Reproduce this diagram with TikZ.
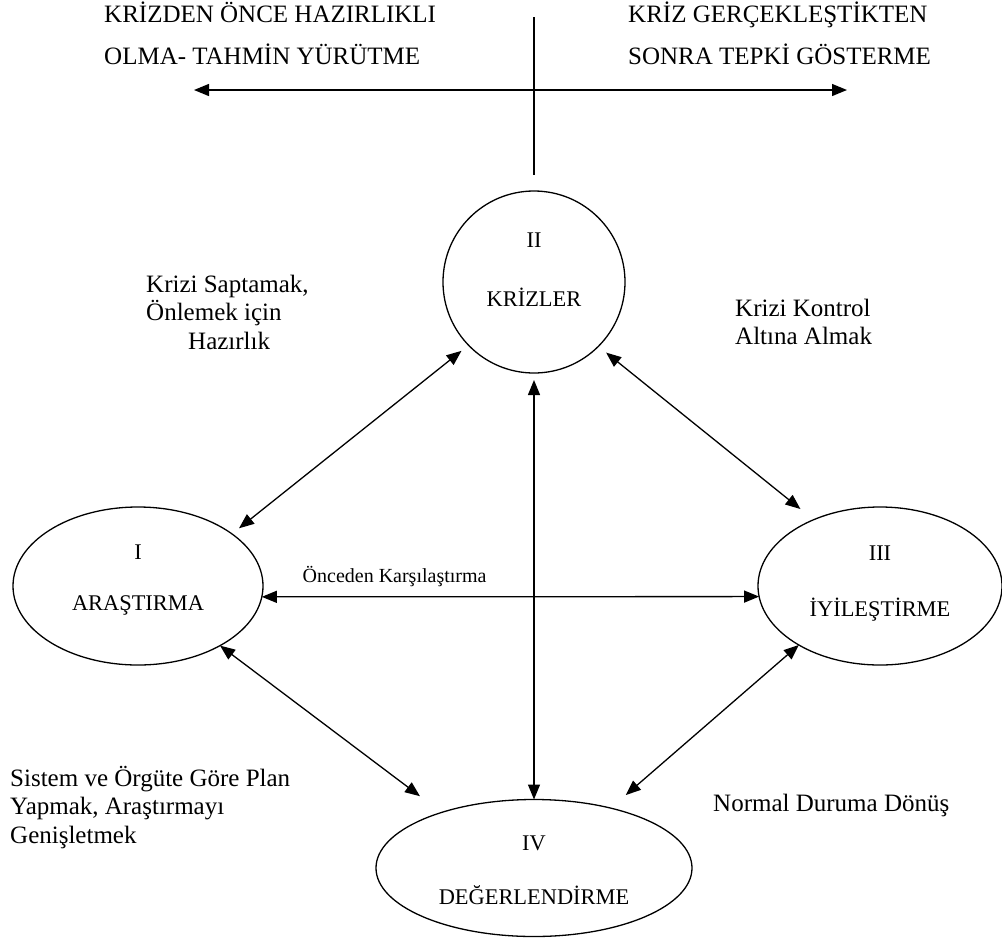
\documentclass[tikz,border=0pt]{standalone}
\usepackage{fontspec}
\setmainfont{Liberation Serif}
\usetikzlibrary{positioning,arrows.meta,shapes.geometric}

\begin{document}
\begin{tikzpicture}[x=1pt,y=-1pt,on grid,>={Triangle[length=15pt,width=12pt]},
        phase/.style={draw,line width=1.3pt,inner sep=0pt,outer sep=0pt},
        every label/.style={font=\fontsize{22.4}{27}\selectfont},
        note/.style={align=left,anchor=north west,inner sep=0pt,font=\fontsize{25}{28.5}\selectfont},
        link/.style={line width=1.3pt,<->}]
        \useasboundingbox (0,0) rectangle (1002,938);
        \node[phase,circle,minimum size=182pt,label={[yshift=42pt]center:II},label={[yshift=-15pt]center:KRİZLER}] (II) at (534,282) {};
        \node[phase,ellipse,minimum width=250pt,minimum height=158pt,below left=304pt and 396pt of II,label={[yshift=34pt]center:I},label={[yshift=-19pt]center:ARAŞTIRMA}] (I) {};
        \node[phase,ellipse,minimum width=244pt,minimum height=158pt,below right=304pt and 346pt of II,label={[yshift=33pt]center:III},label={[yshift=-24pt]center:İYİLEŞTİRME}] (III) {};
        \node[phase,ellipse,minimum width=316pt,minimum height=137pt,below=586pt of II,label={[yshift=25pt]center:IV},label={[yshift=-27pt]center:DEĞERLENDİRME}] (IV) {};
        \node[note,font=\fontsize{25}{42}\selectfont] (before) at (104,2) {KRİZDEN ÖNCE HAZIRLIKLI\\OLMA- TAHMİN YÜRÜTME};
        \node[note,font=\fontsize{25}{42}\selectfont] (after) at (628,2) {KRİZ GERÇEKLEŞTİKTEN\\SONRA TEPKİ GÖSTERME};
        \node[note] (detect) at (146,274.5) {Krizi Saptamak,\\Önlemek için\\\hspace*{42pt}Hazırlık};
        \node[note] (control) at (735,298.5) {Krizi Kontrol\\Altına Almak};
        \node[note] (plan) at (10,766) {Sistem ve Örgüte Göre Plan\\Yapmak, Araştırmayı\\Genişletmek};
        \node[note,anchor=base west] (normal) at (713,811.5) {Normal Duruma Dönüş};
        \coordinate (past) at (194,90);
        \coordinate (future) at (847,90);
        \coordinate (axistop) at (534,17);
        \coordinate (axisend) at (534,175);
        \draw[link] (past) -- (future);
        \draw[line width=1.3pt] (axistop) -- (axisend);
        \path[link]
                (I.29) edge[shorten <=9pt,shorten >=9pt] (II.224)
                (II.315) edge[shorten <=10pt,shorten >=17pt] (III.135)
                (I.-36) edge[shorten >=27pt] (IV.149)
                (III.216) edge[shorten >=20pt] (IV.38)
                (II.270) edge[shorten <=7pt] (IV.90)
                (I.-5.5) edge node[pos=.267,anchor=base,yshift=14pt,font=\fontsize{20}{24}\selectfont] (cmp) {Önceden Karşılaştırma} (III.185.5);
\end{tikzpicture}
\end{document}
